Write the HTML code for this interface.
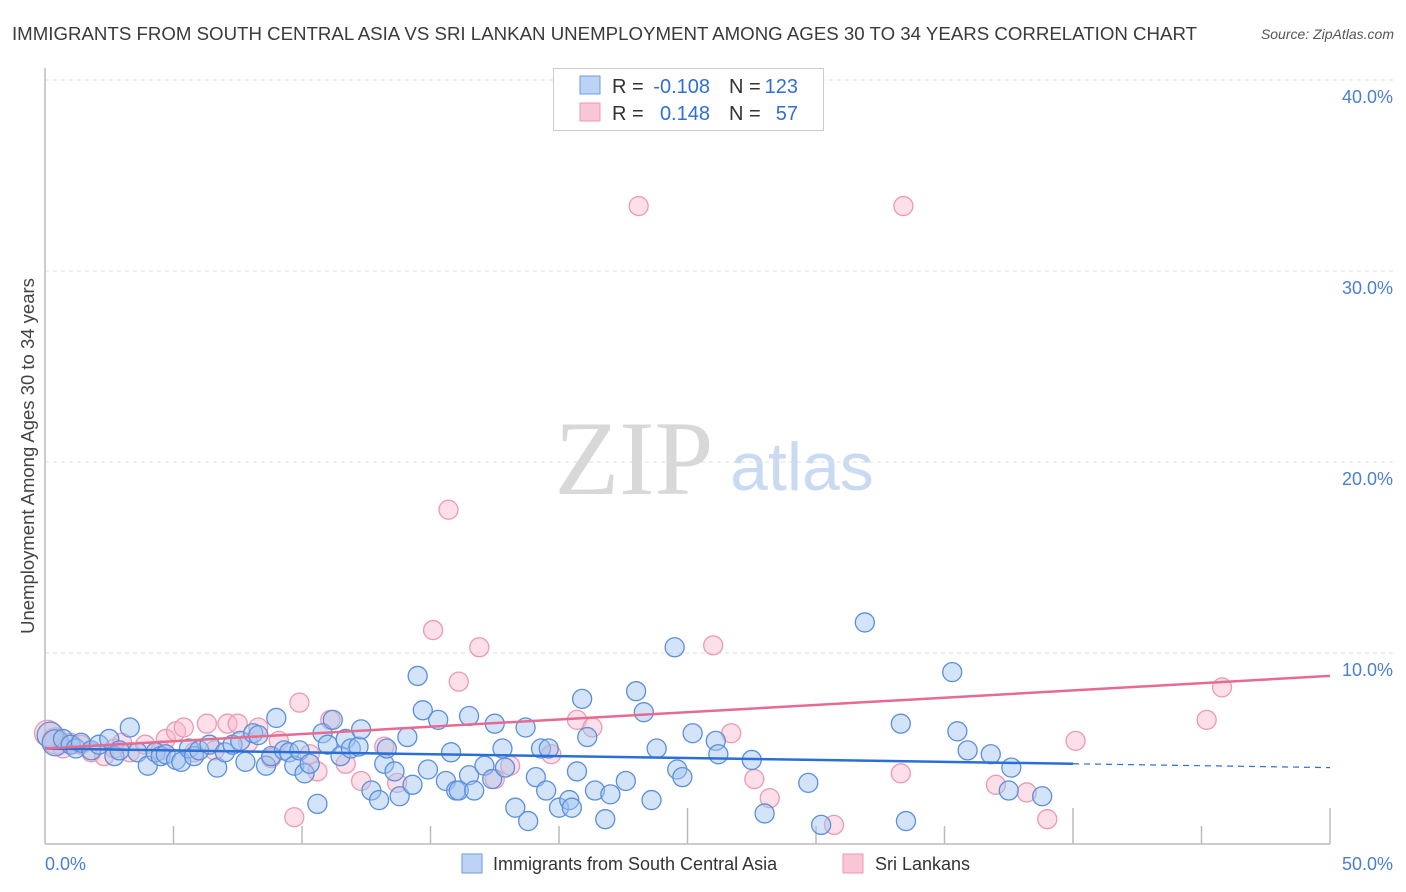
<!DOCTYPE html>
<html><head><meta charset="utf-8"><style>
body{margin:0;background:#fff;font-family:"Liberation Sans",sans-serif}
svg{display:block}
</style></head><body>
<svg id="chart" width="1406" height="892">
<text x="12" y="40" font-size="18" fill="#3a3a3a" textLength="1185" lengthAdjust="spacingAndGlyphs">IMMIGRANTS FROM SOUTH CENTRAL ASIA VS SRI LANKAN UNEMPLOYMENT AMONG AGES 30 TO 34 YEARS CORRELATION CHART</text>
<text x="1394" y="39" font-size="14" fill="#555" font-style="italic" text-anchor="end">Source: ZipAtlas.com</text>
<text x="634" y="494" font-size="106" fill="#d8d8d8" font-family="Liberation Serif,serif" text-anchor="middle">ZIP</text>
<text x="802" y="490" font-size="68" fill="#c9daf2" text-anchor="middle">atlas</text>
<text transform="translate(34,456) rotate(-90)" font-size="18.5" fill="#444" text-anchor="middle">Unemployment Among Ages 30 to 34 years</text>
<g id="grid"></g><g id="pts"></g><g id="trend"></g>
<g>
<rect x="553.5" y="68.5" width="270" height="62" fill="#fff" stroke="#ccc"/>
<rect x="580" y="76" width="20" height="18" fill="#bcd3f5" stroke="#6d9be0"/>
<rect x="580" y="103" width="20" height="18" fill="#f9c6d5" stroke="#eb9ab2"/>
<text x="612" y="93" font-size="20" fill="#333">R =</text>
<text x="710" y="93" font-size="20" fill="#2f6fd6" text-anchor="end">-0.108</text>
<text x="729" y="93" font-size="20" fill="#333">N =</text>
<text x="798" y="93" font-size="20" fill="#2f6fd6" text-anchor="end">123</text>
<text x="612" y="120" font-size="20" fill="#333">R =</text>
<text x="710" y="120" font-size="20" fill="#2f6fd6" text-anchor="end">0.148</text>
<text x="729" y="120" font-size="20" fill="#333">N =</text>
<text x="798" y="120" font-size="20" fill="#2f6fd6" text-anchor="end">57</text>
</g>
<g>
<rect x="462" y="854" width="20" height="19" fill="#bcd3f5" stroke="#6d9be0"/>
<text x="493" y="870" font-size="18" fill="#333">Immigrants from South Central Asia</text>
<rect x="843" y="854" width="20" height="19" fill="#f9c6d5" stroke="#eb9ab2"/>
<text x="875" y="870" font-size="18" fill="#333">Sri Lankans</text>
</g>
</svg>
<script>
const blueX=[0.2,0.4,0.7,1.0,1.2,1.4,1.8,2.1,2.5,2.7,2.9,3.3,3.6,4.0,4.3,4.5,4.7,5.1,5.3,5.6,5.8,6.0,6.4,6.7,7.0,7.3,7.6,7.8,8.1,8.3,8.6,8.8,9.0,9.3,9.5,9.7,9.9,10.1,10.3,10.6,10.8,11.0,11.2,11.5,11.7,11.9,12.2,12.3,12.7,13.0,13.2,13.3,13.6,13.8,14.1,14.3,14.5,14.7,14.9,15.3,15.6,15.8,16.0,16.1,16.5,16.5,16.7,17.1,17.4,17.5,17.8,17.9,18.3,18.7,18.8,19.1,19.3,19.5,19.6,20.0,20.4,20.5,20.7,20.9,21.1,21.4,21.8,22.0,22.6,23.0,23.3,23.6,23.8,24.5,24.6,24.8,25.2,26.1,26.2,27.5,28.0,29.7,30.2,31.9,33.3,33.5,35.3,35.5,35.9,36.8,37.5,37.6,38.8];
const blueY=[5.7,5.3,5.5,5.2,5.0,5.3,4.9,5.2,5.5,4.6,4.9,6.1,4.8,4.1,4.8,4.6,4.7,4.4,4.3,5.0,4.6,4.9,5.2,4.0,4.8,5.2,5.4,4.3,5.8,5.7,4.1,4.6,6.6,4.9,4.8,4.1,4.9,3.7,4.2,2.1,5.8,5.2,6.5,4.6,5.5,5.0,5.1,6.0,2.8,2.3,4.2,5.0,3.8,2.5,5.6,3.1,8.8,7.0,3.9,6.5,3.3,4.8,2.8,2.8,3.6,6.7,2.8,4.1,3.4,6.3,5.0,4.0,1.9,6.1,1.2,3.5,5.0,2.8,5.0,1.9,2.3,1.9,3.8,7.6,5.6,2.8,1.3,2.6,3.3,8.0,6.9,2.3,5.0,10.3,3.9,3.5,5.8,5.4,4.7,4.4,1.6,3.2,1.0,11.6,6.3,1.2,9.0,5.9,4.9,4.7,2.8,4.0,2.5];
const pinkX=[0.1,0.4,0.7,1.0,1.4,1.8,2.3,2.7,3.0,3.3,3.9,4.5,4.7,5.1,5.4,5.8,6.3,6.6,7.1,7.5,7.9,8.3,8.8,9.1,9.7,9.9,10.3,10.6,11.1,11.7,12.3,13.2,13.7,15.1,15.7,16.1,16.9,17.5,18.1,19.7,20.7,21.3,23.1,26.0,26.7,27.6,28.2,30.7,33.3,33.4,37.0,38.2,39.0,40.1,45.2,45.8];
const pinkY=[5.8,5.4,5.0,5.3,5.2,4.8,4.6,5.0,5.3,4.8,5.2,4.9,5.5,5.9,6.1,4.8,6.3,4.9,6.3,6.3,5.3,6.1,4.5,5.4,1.4,7.4,4.7,3.8,6.5,4.2,3.3,5.1,3.2,11.2,17.5,8.5,10.3,3.4,4.1,4.7,6.5,6.1,33.4,10.4,5.8,3.4,2.4,1.0,3.7,33.4,3.1,2.7,1.3,5.4,6.5,8.2];
const blueTrend=[5.0,4.2,4.0]; // at x=0, 40, 50
const pinkTrend=[5.0,8.8]; // at x=0, 50
const yTicks=[10,20,30,40];
const yTickLabels=["10.0%","20.0%","30.0%","40.0%"];
const xTicks=[0,5,10,15,20,25,30,35,40,45,50];

const NS="http://www.w3.org/2000/svg";
const sx=v=>45+v*25.7, sy=v=>844-v*19.1;
function mk(p,t,a){const e=document.createElementNS(NS,t);for(const k in a)e.setAttribute(k,a[k]);p.appendChild(e);return e;}
const grid=document.getElementById('grid'),pts=document.getElementById('pts'),tr=document.getElementById('trend');
yTicks.forEach((t,i)=>{
 const l=mk(grid,'line',{x1:45,x2:1393,y1:sy(t),y2:sy(t),stroke:'#ddd','stroke-dasharray':'4,4'});
 
 
 const tx=mk(grid,'text',{x:1393,y:sy(t)+23,'font-size':18,fill:'#4a7fd0','text-anchor':'end'});
 tx.textContent=yTickLabels[i];
 
 
});
mk(grid,'line',{x1:45,x2:45,y1:68,y2:844,stroke:'#bbb','stroke-width':1.5});
const xa=mk(grid,'line',{x1:45,x2:1330,y1:844,y2:844,stroke:'#bbb','stroke-width':1.5});


xTicks.forEach((t,i)=>{ if(i===0)return;
 const tall=(i===5||i===8||i===10);
 const tk=mk(grid,'line',{x1:sx(t),x2:sx(t),y1:(tall?808:826),y2:844,stroke:'#bbb','stroke-width':1.5});
 
 
});
const x0=mk(grid,'text',{x:45,y:870,'font-size':18,fill:'#4a7fd0'});x0.textContent='0.0%';


const x1=mk(grid,'text',{x:1393,y:870,'font-size':18,fill:'#4a7fd0','text-anchor':'end'});x1.textContent='50.0%';


function dots(X,Y,fill,stroke,name){X.forEach((x,i)=>{
 const c=mk(pts,'circle',{cx:sx(x),cy:sy(Y[i]),r:(x<0.5?13:9.5),fill:fill,stroke:stroke,'stroke-width':1.3});
 
 
});}
dots(pinkX,pinkY,'rgba(248,185,205,0.45)','#eb9ab2','sri-lankan-point');
dots(blueX,blueY,'rgba(160,195,240,0.45)','#5b8fdc','immigrant-point');
const bt=mk(tr,'line',{x1:sx(0),y1:sy(blueTrend[0]),x2:sx(40),y2:sy(blueTrend[1]),stroke:'#2a6fd6','stroke-width':2.5});


const bd=mk(tr,'line',{x1:sx(40),y1:sy(blueTrend[1]),x2:sx(50),y2:sy(blueTrend[2]),stroke:'#2a6fd6','stroke-width':1.2,'stroke-dasharray':'6,5'});


const pt=mk(tr,'line',{x1:sx(0),y1:sy(pinkTrend[0]),x2:sx(50),y2:sy(pinkTrend[1]),stroke:'#e56b92','stroke-width':2.5});


</script>
</body></html>
